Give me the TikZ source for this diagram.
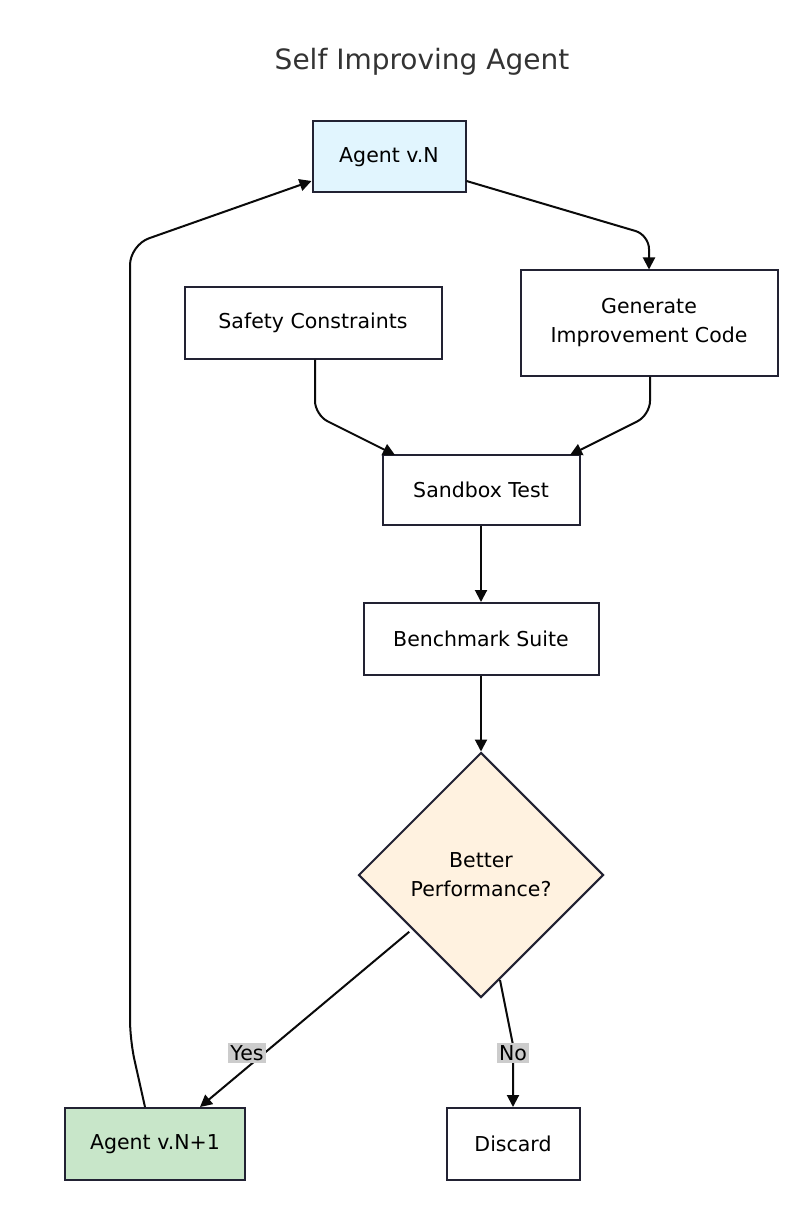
\documentclass[tikz,border=0pt]{standalone}
\usepackage{fontspec}
\setmainfont{DejaVu Sans}
\usetikzlibrary{shapes.geometric,arrows.meta}
\tikzset{every picture/.style={line width=2pt}}
\tikzset{
  box/.style={draw={rgb,255:red,34;green,34;blue,51}, rectangle, inner sep=0pt, font=\fontsize{20.5}{24}\selectfont, align=center},
  flow/.style={draw={rgb,255:red,10;green,10;blue,10}, -{Triangle[length=12pt,width=12pt]}, rounded corners=14pt},
  tag/.style={fill={rgb,255:red,204;green,204;blue,204}, inner sep=2pt, font=\fontsize{20.5}{24}\selectfont}
}
\begin{document}
\begin{tikzpicture}[x=1pt,y=1pt,yscale=-1]
\useasboundingbox (0,0) rectangle (808,1222);
\fill[white] (0,0) rectangle (808,1222);

% Title
\node (title) at (422,62) {\fontsize{28}{32}\selectfont\color{black!80}Self Improving Agent};

% Boxes
\node[box, fill={rgb,255:red,225;green,245;blue,254}, minimum width=153pt, minimum height=71pt] (agentN) at (389,157) {Agent v.N};
\node[box, fill=white, minimum width=257pt, minimum height=105pt] (gen) at (649,323) {Generate\\[5pt]Improvement Code};
\node[box, fill=white, minimum width=257pt, minimum height=71pt] (safety) at (313,323) {Safety Constraints};
\node[box, fill=white, minimum width=197pt, minimum height=70pt] (sandbox) at (481,490) {Sandbox Test};
\node[box, fill=white, minimum width=235pt, minimum height=72pt] (bench) at (481,639) {Benchmark Suite};
\node[box, diamond, fill={rgb,255:red,255;green,242;blue,224}, minimum width=245pt, minimum height=245pt] (better) at (481,875) {Better\\[5pt]Performance?};
\node[box, fill={rgb,255:red,200;green,230;blue,201}, minimum width=180pt, minimum height=72pt] (agentN1) at (155,1144) {Agent v.N+1};
\node[box, fill=white, minimum width=133pt, minimum height=72pt] (discard) at (513,1144) {Discard};

% Connectors
\coordinate (c1) at (649,235);
\draw[flow] (agentN.east |- 0,181) -- (c1) -- (gen.north);
\coordinate (c2) at (315,415);
\draw[flow] (safety.south -| c2) -- (c2) -- (395,455);
\coordinate (c3) at (650,415);
\draw[flow] (gen.south -| c3) -- (c3) -- (570,455);
\draw[flow] (sandbox) -- (bench);
\draw[flow] (bench) -- (better);
\draw[flow] (better.south west) ++(-10,-5) coordinate (y0) -- (agentN1.north -| 200,0);
\node[tag] (yes) at (247,1053) {Yes};
\coordinate (n0) at (500,980);
\draw[flow, rounded corners=0pt] (n0) -- (513,1045) -- (discard.north);
\node[tag] (no) at (513,1053) {No};
\coordinate (c4) at (130,245);
\draw[flow, rounded corners=20pt] (agentN1.north -| 145,0) -- (130,1040) -- (c4) -- (agentN.west |- 0,181);
\end{tikzpicture}
\end{document}
